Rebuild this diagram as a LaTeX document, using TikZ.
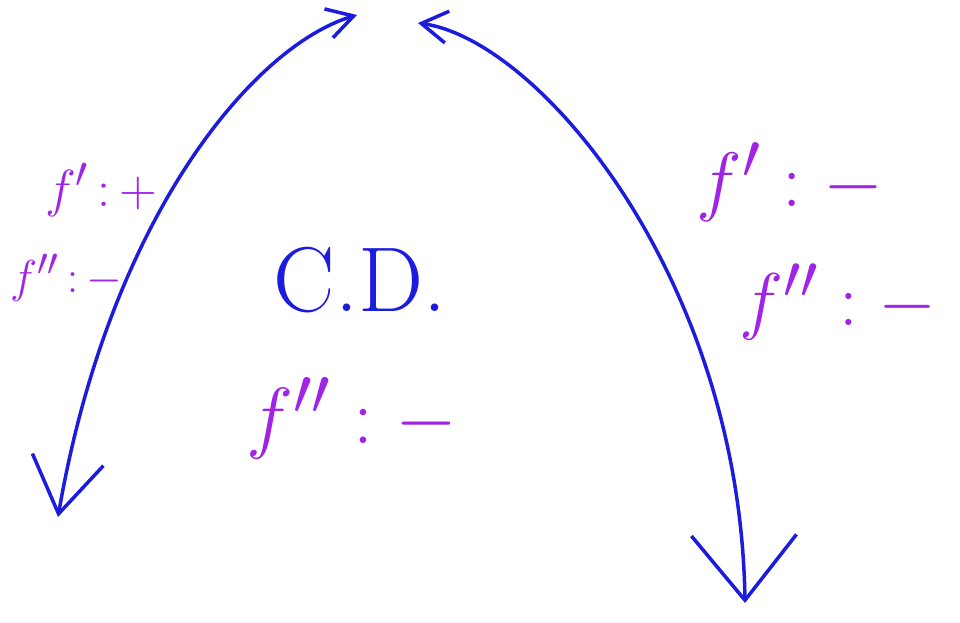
\documentclass[tikz,border=0pt]{standalone}
\usepackage{graphicx}
\usetikzlibrary{arrows.meta}
\definecolor{penblue}{RGB}{28,28,222}
\definecolor{penpurple}{RGB}{160,36,232}
\newcommand{\bigmath}[2]{\scalebox{#1}{\Huge$#2$}}
\begin{document}
\begin{tikzpicture}[x=1pt,y=-1pt,
  curve/.style={draw=penblue, line width=3.5pt, line cap=round, line join=round},
  lbl/.style={text=penpurple, inner sep=0pt, anchor=center},
  cdlbl/.style={text=penblue, inner sep=0pt, anchor=center}]
\useasboundingbox[fill=white] (0,0) rectangle (960,622);
% end points of the two arcs
\coordinate (Lb) at (58,517);
\coordinate (Lt) at (357,15);
\coordinate (Rt) at (418,23);
\coordinate (Rb) at (745,603);
% arcs
\draw[curve, {Straight Barb[length=55pt,width=72pt]}-{Straight Barb[length=26pt,width=30pt]}]
  (Lb) .. controls (110,215) and (255,45) .. (Lt);
\draw[curve, {Straight Barb[length=26pt,width=32pt]}-{Straight Barb[length=65pt,width=105pt]}]
  (Rt) .. controls (540,40) and (740,280) .. (Rb);
% labels
\node[lbl] (l1) at (101,190) {\bigmath{2.1}{f'\,{:}\,{+}}};
\node[lbl] (l2) at (66,278) {\bigmath{1.85}{f''\,{:}\,{-}}};
\node[cdlbl, font=\fontsize{92}{92}\selectfont] (cd) at (360,280) {C.D.};
\node[lbl] (l3) at (352,418) {\bigmath{3.2}{f''\;{:}\;{-}}};
\node[lbl] (l4) at (790,182) {\bigmath{3.1}{f'\;{:}\;{-}}};
\node[lbl] (l5) at (838,302) {\bigmath{3.0}{f''\;{:}\;{-}}};
\end{tikzpicture}
\end{document}
